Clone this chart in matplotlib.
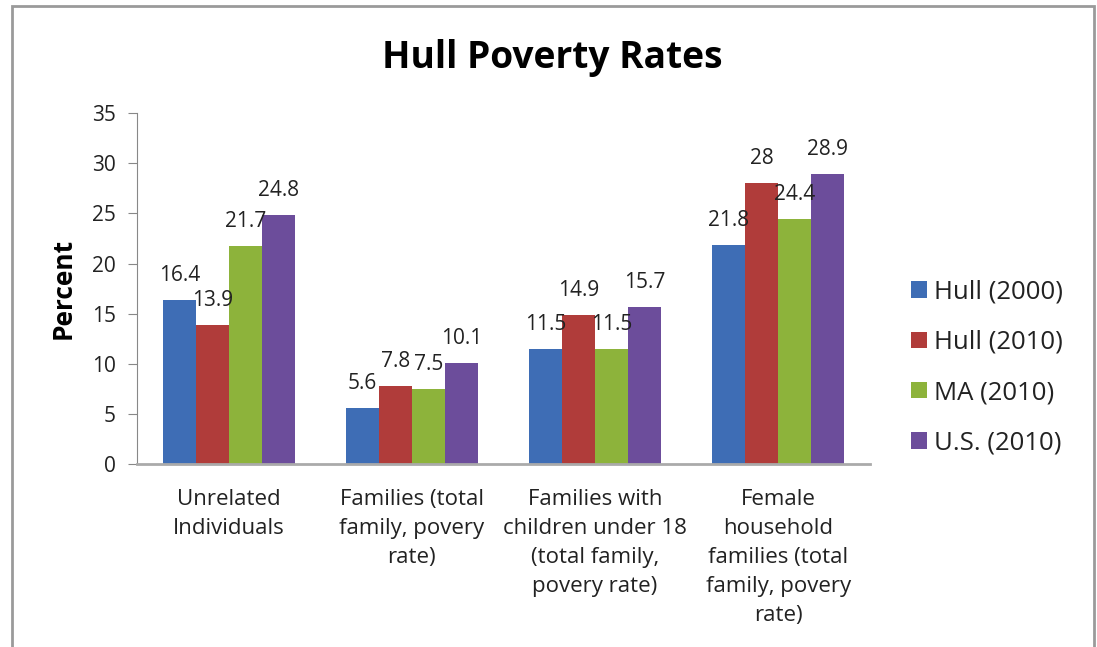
import matplotlib.pyplot as plt
import matplotlib.patches as patches
import numpy as np

categories = ["Unrelated\nIndividuals",
              "Families (total\nfamily, povery\nrate)",
              "Families with\nchildren under 18\n(total family,\npovery rate)",
              "Female\nhousehold\nfamilies (total\nfamily, povery\nrate)"]
series_names = ["Hull (2000)", "Hull (2010)", "MA (2010)", "U.S. (2010)"]
hull_2000 = [16.4, 5.6, 11.5, 21.8]
hull_2010 = [13.9, 7.8, 14.9, 28]
ma_2010 = [21.7, 7.5, 11.5, 24.4]
us_2010 = [24.8, 10.1, 15.7, 28.9]
colors = ["#3e6db5", "#b03c3a", "#8db33b", "#6c4d9b"]

font = "Open Sans"
text_color = "#222222"

fig = plt.figure(figsize=(10.97, 6.47), dpi=100)
ax = fig.add_axes([0.125, 0.283, 0.668, 0.542])

# Outer chart frame (bottom edge falls outside the picture)
fig.patches.append(patches.Rectangle((0.011, -0.05), 0.986, 1.04, transform=fig.transFigure,
                                     fill=False, edgecolor="#9a9a9a", linewidth=2))

x = np.arange(len(categories))
width = 0.18
all_series = [hull_2000, hull_2010, ma_2010, us_2010]
for i, (vals, name, col) in enumerate(zip(all_series, series_names, colors)):
    pos = x + (i - 1.5) * width
    bars = ax.bar(pos, vals, width, color=col, label=name)
    for b, v in zip(bars, vals):
        ax.text(b.get_x() + b.get_width() / 2, v + 2.45, f"{v:g}", ha="center", va="center",
                fontsize=15, fontname=font, color=text_color)

ax.set_xlim(-0.5, 3.5)
ax.set_ylim(0, 35)
ax.set_yticks(np.arange(0, 36, 5))
ax.set_yticklabels([str(t) for t in range(0, 36, 5)], fontsize=15, fontname=font, color=text_color)
ax.set_xticks(x)
ax.set_xticklabels(categories, fontsize=16, fontname=font, color=text_color, linespacing=1.5)
ax.tick_params(axis="x", length=0, pad=18)
ax.tick_params(axis="y", length=6.5, color="#888888", pad=9)

for side in ["top", "right"]:
    ax.spines[side].set_visible(False)
ax.spines["left"].set_color("#888888")
ax.spines["bottom"].set_color("#aaaaaa")
ax.spines["bottom"].set_linewidth(2)

ax.set_ylabel("Percent", fontsize=19, fontweight="bold", fontname=font, va="center")
ax.yaxis.set_label_coords(-0.101, 0.5)

fig.text(0.503, 0.910, "Hull Poverty Rates", ha="center", va="center",
         fontsize=26.7, fontweight="bold", fontname=font, color="black")

leg = fig.legend(loc="center left", bbox_to_anchor=(0.809, 0.432), frameon=False,
                 prop={"family": font, "size": 18.5}, handlelength=0.62, handleheight=0.62,
                 handletextpad=0.3, labelspacing=0.98)
for t in leg.get_texts():
    t.set_color(text_color)

plt.savefig("out.png", dpi=100)
